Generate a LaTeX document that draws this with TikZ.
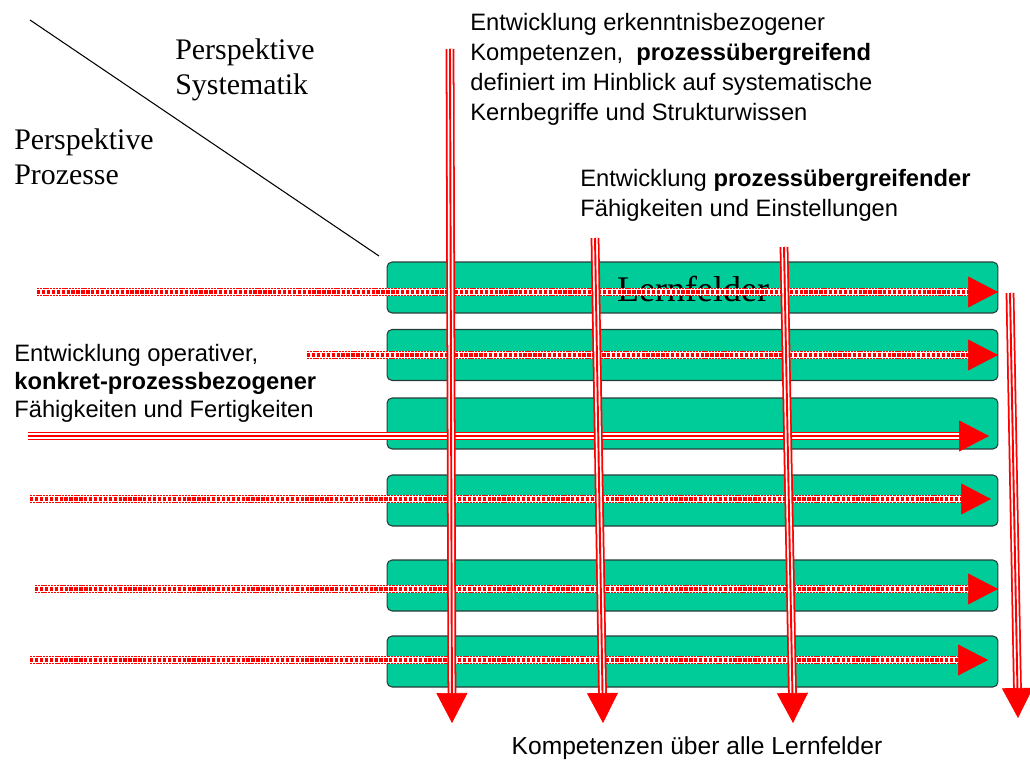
\documentclass[tikz,border=0pt]{standalone}
\usepackage{fontspec}
\setmainfont{Liberation Serif}
\newfontfamily\sansfont{Liberation Sans}
\usetikzlibrary{arrows.meta,calc}

\definecolor{lfgreen}{RGB}{0,204,153}
\definecolor{lfedge}{RGB}{40,60,55}

\begin{document}
\begin{tikzpicture}[x=0.02cm,y=-0.02cm,line cap=butt]
	\tikzstyle{lfbox}=[draw=lfedge,line width=0.6pt,fill=lfgreen,rounded corners=0.1cm,minimum width=12.22cm,minimum height=1.02cm,inner sep=0pt];
	\tikzstyle{dotline}=[draw=red,line width=5pt,dash pattern=on 1.3pt off 0.5pt,
		preaction={draw=white,solid,line width=5pt},
		postaction={draw=white,solid,line width=3.3pt},
		postaction={draw=red,line width=1.9pt,dash pattern=on 1.9pt off 0.9pt}];
	\tikzstyle{tripleline}=[draw=red,line width=5pt,
		postaction={draw=white,line width=3pt},
		postaction={draw=red,line width=1.1pt}];
	\tikzstyle{redtip}=[red,line width=0.4pt,-{Triangle[length=0.6cm,width=0.62cm]}];
	\tikzstyle{sanstext}=[font=\sansfont\fontsize{13.5}{17}\selectfont,align=left,inner sep=0pt];
	\tikzstyle{serftext}=[font=\fontsize{17}{20}\selectfont,align=left,inner sep=0pt];

	\useasboundingbox (0,0) rectangle (1030,760);

	% Lernfelder
	\foreach \n/\y in {1/287.5,2/355,3/423.5,4/500.5,5/585.5,6/661.5}
		\node[lfbox] (lf\n) at (692.5,\y) {};
	\node[font=\fontsize{20.5}{24}\selectfont] (lftitle) at (693,288.5) {Lernfelder};

	% Diagonale
	\coordinate (dg1) at (30,20);
	\coordinate (dg2) at (379,256);
	\draw[line width=0.6pt] (dg1) -- (dg2);
	\node[serftext,anchor=north west] (sys) at (175,38) {Perspektive\\Systematik};
	\node[serftext,anchor=north west] (proz) at (14,128) {Perspektive\\Prozesse};

	% horizontale Pfeile
	\foreach \n/\xs/\y/\xt in {1/37/292/998,2/307/355/998,4/30/499/991,5/35/589/998,6/30/660/988}{
		\coordinate (hs\n) at (\xs,\y);
		\coordinate (ht\n) at (\xt,\y);
		\draw[dotline] (hs\n) -- ($(ht\n)!0.58cm!(hs\n)$);
		\draw[redtip] ($(ht\n)!0.62cm!(hs\n)$) -- (ht\n);
	}
	\coordinate (hs3) at (28,436);
	\coordinate (ht3) at (989,436);
	\draw[tripleline] (hs3) -- ($(ht3)!0.58cm!(hs3)$);
	\draw[redtip] ($(ht3)!0.62cm!(hs3)$) -- (ht3);

	% vertikale Pfeile
	\foreach \n/\xs/\ys/\xt/\yt in {1/450/49/452/723,2/595/238/603/723,3/784/247/793/723,4/1010/293/1018/718}{
		\coordinate (vs\n) at (\xs,\ys);
		\coordinate (vt\n) at (\xt,\yt);
		\draw[tripleline] (vs\n) -- ($(vt\n)!0.58cm!(vs\n)$);
		\draw[redtip] ($(vt\n)!0.62cm!(vs\n)$) -- (vt\n);
	}

	% Texte
	\node[sanstext,anchor=north west] (erk) at (470,13) {Entwicklung erkenntnisbezogener\\Kompetenzen,\ \ \textbf{prozessübergreifend}\\definiert im Hinblick auf systematische\\Kernbegriffe und Strukturwissen};
	\node[sanstext,anchor=north west] (pue) at (580,169) {Entwicklung \textbf{prozessübergreifender}\\Fähigkeiten und Einstellungen};
	\node[sanstext,anchor=north west,font=\sansfont\fontsize{13.5}{16}\selectfont] (ope) at (14,344) {Entwicklung operativer,\\\textbf{konkret-prozessbezogener}\\Fähigkeiten und Fertigkeiten};
	\node[sanstext,anchor=north,font=\sansfont\fontsize{14}{17}\selectfont] (alle) at (697,736) {Kompetenzen über alle Lernfelder};
\end{tikzpicture}
\end{document}
